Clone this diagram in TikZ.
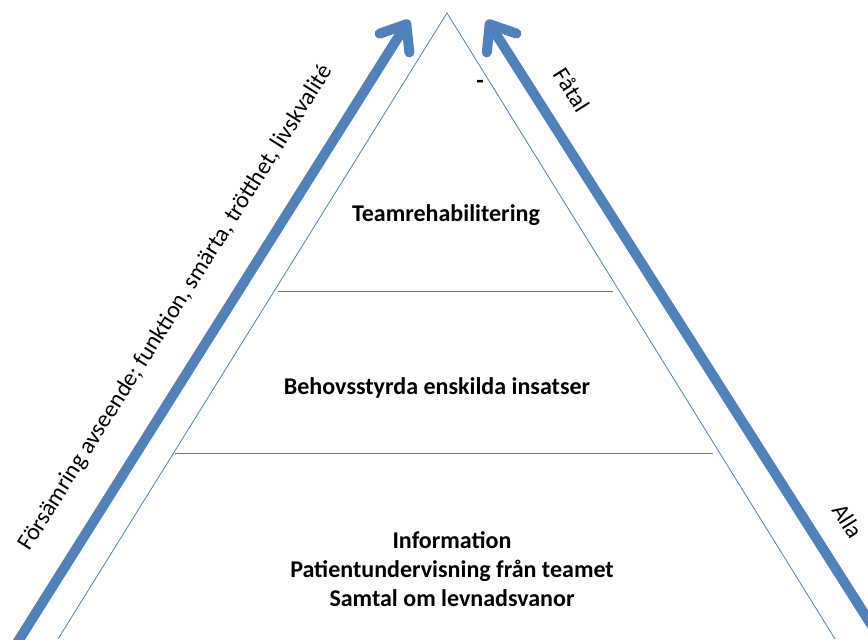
\documentclass[tikz,border=0pt]{standalone}
\usepackage{fontspec}
\setmainfont{Carlito}
\usetikzlibrary{arrows.meta}
\definecolor{officeblue}{HTML}{4F81BD}
\tikzset{
    level/.style={font=\bfseries\fontsize{20.5}{24.5}\selectfont, align=center},
    side/.style={font=\fontsize{20.3}{24}\selectfont},
    edgeline/.style={draw=officeblue, line width=0.7pt},
    bigarrow/.style={draw=officeblue, line width=8.5pt, -{Straight Barb[length=19pt, width=30pt, round]}}
}

\begin{document}
\begin{tikzpicture}[x=0.03cm, y=-0.03cm]
        \useasboundingbox (0,0) rectangle (868,639);
        \clip (0,0) rectangle (868,639);

        % Triangeln
        \coordinate (top) at (447,13);
        \coordinate (bl) at (58,639);
        \coordinate (br) at (835,639);
        \draw[edgeline] (bl) -- (top) -- (br);

        % Nivåer
        \coordinate (l1a) at (278,291);
        \coordinate (l1b) at (613,291);
        \coordinate (l2a) at (175,453);
        \coordinate (l2b) at (713,453);
        \draw[edgeline] (l1a) -- (l1b);
        \draw[edgeline] (l2a) -- (l2b);

        \node[level] (dash) at (480,84) {-};
        \node[level] (team) at (446,215) {Teamrehabilitering};
        \node[level] (behov) at (437,388) {Behovsstyrda enskilda insatser};
        \node[level] (bas) at (452,569) {Information\\Patientundervisning från teamet\\Samtal om levnadsvanor};

        % Pilar
        \coordinate (lstart) at (5,662);
        \coordinate (ltip) at (409,20);
        \coordinate (rstart) at (895,662);
        \coordinate (rtip) at (487,20);
        \draw[bigarrow] (lstart) -- (ltip);
        \draw[bigarrow] (rstart) -- (rtip);

        \node[side, rotate=57.8] (forsamring) at (176,308) {Försämring avseende; funktion, smärta, trötthet, livskvalité};
        \node[side, rotate=-57.8] (fatal) at (572,90) {Fåtal};
        \node[side, rotate=-57.8] (alla) at (848,521) {Alla};
    \end{tikzpicture}
\end{document}
